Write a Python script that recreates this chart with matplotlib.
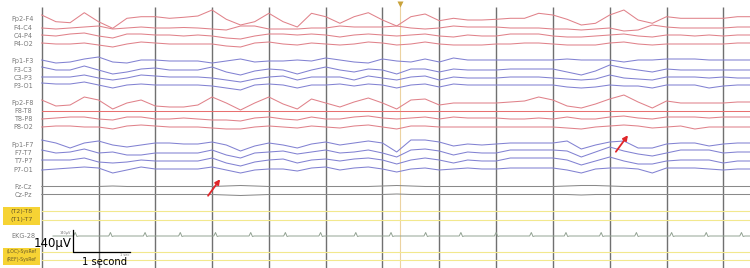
import matplotlib.pyplot as plt
import numpy as np
from matplotlib.patches import Rectangle

# EEG traces, one value every 0.25 s starting at the first gridline.
# Deflection in screen pixels (22 px = 140 uV), positive = upward.
STEP = 0.25

fp2_f4 = [4, -2.7, -3.7, 6.3, -2.7, -9.3, 0.7, 2.3, 2.3, 0.7, 1.7, 3, 9, -0.3, -6, -2.7, 5.7,
          -2.7, -8, 5.7, 2.3, -4.3, 2.3, 6.3, -1, -7, 2.3, 5, -1.7, 0.7, -1, -1, -0.3,
          0.7, 0.7, 5.7, 4, -0.3, -6, -4.3, 4, 9, -1, -4.3, 2.3, 0.7, 0.7, 0.7, 0.7, 2.3, 2.3]
f4_c4 = [0, -1, 0, 1, 2, -1, 0, 1, 0, 0, 0.5, 0, -1, -2, 2, 2, -1,
         -1, -1, 0, 0, 2, 1, 1, 1, 2, 0, -1, 0, 2, 1, 1, 1,
         0, 0, 0, -1, -1, -2, -1, 0, -3, -2, 3, 1, 0, 0, 0, 0, 1, 1]
c4_p4 = [1, 0, 2, 3, 0, -2, 2, 2, 1, 1, 0, 1, 0, -2, -3, 0, 2,
         2, 1, 2, 1, -1, 1, 2, 1, 0, 1, 2, 0, -1, 1, 0, 0,
         2, 2, 2, 0, -1, -1, 0, 1, 2, 0, -1, 1, 1, 0, 1, 0, 1, 1]
p4_o2 = [1, 0, 0, 1, -1, -3, 0, 2, 1, 0, 0, 0, 0, -2, -3, 1, 2,
         0, -1, 1, 0, -1, 0, 2, 1, -1, 0, 2, 0, -1, -1, -1, 0,
         0, 1, 1, 0, -1, -1, -1, 1, 2, 0, -1, 0, 0, 0, 0, 0, 1, 1]

fp1_f3 = [1, -2, -1, 2, 4, -1, -2, 1, 1, 0, 0, 0, -2, 0, 2, -1, 0,
          0, 1, 0, 3, 1, -1, -2, 2, 0, -1, 2, -1, 3, 1, 1, 1,
          1, 1, 1, 1, 2, 1, 1, 1, -1, 1, 1, 2, 2, 2, 1, 1, 1, 1]
f3_c3 = [3, 0, 0, 4, 0, -4, -2, 1, 2, 0, 0, 0, 3, -2, -5, -1, 1,
         0, -4, 0, 3, 0, -2, 1, 0, -4, 1, 1, -2, 1, 0, 0, 0,
         1, 1, 1, 1, -2, -5, -1, 5, 2, 0, -2, 1, 0, 0, 0, 0, 0, 0]
c3_p3 = [1, 1, 1, 3, 0, -2, 0, 3, 2, 1, 1, 1, 0, -2, -4, -1, 1,
         2, -2, 1, 1, 1, -2, 2, 0, -2, 1, 2, -2, 1, 0, 0, 0,
         1, 1, 1, 0, -1, -2, -1, 3, 0, -1, -2, 1, 1, 1, 0, 1, 0, 0]
p3_o1 = [3, 2, 2, 4, 1, -2, 1, 2, 1, 1, 1, 1, 0, -2, -4, 1, 2,
         1, -2, 1, 1, 2, 0, 2, 1, -2, 1, 2, -1, 2, 1, 1, 1,
         1, 1, 1, 1, -1, -2, -1, 1, 0, 0, -2, 1, 1, 1, -2, 0, 1, 1]

fp2_f8 = [3, -3, -2, 6, 3, -6, 0, 3, -3, -4, -4, -2, 6, 0, -7, 0, 6,
          -1, -6, 4, 0, -4, 1, 5, 0, -6, 3, 4, -2, 0, 0, 0, 0,
          1, 2, 6, 3, -3, -5, -1, 4, 8, 1, -5, 2, 0, 0, 0, 0, 1, 1]
f8_t8 = [0.0] * 51  # flat derivation
t8_p8 = [0, 1, 2, 2, 0, -1, 2, 2, 0, 0, 1, 0, -1, -1, -2, 1, 2,
         0, -1, 2, 0, 0, 2, 3, 1, 0, 1, 2, 0, 2, 1, 1, 1,
         0, 0, 1, 0, 2, 0, 0, 2, 3, 1, 0, 2, 2, 2, 1, 2, 2, 2]
p8_o2 = [0, 1, 1, 0, 0, -2, 1, 2, 1, 0, 0, 0, -1, -2, -2, 0, 1,
         0, -1, 1, 0, -1, 1, 2, 0, -2, 1, 1, 0, 0, 0, 0, 0,
         0, 0, 0, 0, -1, -2, 0, 1, 2, 1, -1, 0, 1, -2, 0, 0, 0, 0]

fp1_f7 = [5, 2, -3, 2, 4, 0, -2, 0, 2, 2, 1, 1, 3, 0, -6, -1, 2,
          0, -3, 1, 3, 0, 2, 4, 2, -7, 5, 5, 3, -1, 1, 0, 1,
          2, 2, 2, 2, 4, -4, 0, 3, 4, -3, -3, 1, 2, 2, -1, 1, 2, 2]
f7_t7 = [3, 0, 1, 4, 0, 1, -2, -2, 0, 0, 0, 0, 3, -2, -5, 0, 1,
         2, -1, 1, 3, 0, 1, 3, 0, -4, 3, 4, 2, -2, 1, 0, 0,
         3, 3, 3, 3, 2, -4, 1, 6, 2, -1, -3, 0, 3, 3, 3, 0, 1, 1]
t7_p7 = [1, 1, 1, 3, -1, -2, -1, 1, 0, 0, 0, 0, 3, -2, -5, -1, 1,
         2, -2, 1, 2, 0, 2, 3, 1, -3, 1, 3, 1, -2, 1, 0, 0,
         3, 3, 3, 3, 1, -4, 0, 4, 0, -3, -3, 0, 1, 1, 1, -2, 0, 0]
p7_o1 = [0, 1, 2, 3, 2, -3, 0, 3, 1, 1, 1, 1, 3, 0, -3, 0, 1,
         1, -1, 2, 3, 0, 2, 3, 1, -2, 1, 2, 0, 1, 2, 1, 1,
         2, 2, 2, 2, 0, -3, 1, 2, 2, 1, -3, 2, 2, 2, 1, 0, 1, 1]

fz_cz = [0.5, 0.5, 0.5, 0.5, 0.5, 1, 0.5, 0.5, 0.5, 0.5, 0.5, 0.5, 0.5, 1, 1.5, 1, 0.5,
         0.5, 0.5, 0.5, 0.5, 0.5, 0.5, 0.5, 1, 1.5, 1, 0.5, 0.5, 0.5, 0.5, 0.5, 0.5,
         0.5, 0.5, 0.5, 0.5, 1, 1.5, 1.5, 1, 0.5, 0.5, 0.5, 0.5, 0.5, 0.5, 0.5, 0.5, 0.5, 0.5]
cz_pz = [0.5, 0.5, 0.5, 0.5, 0.5, 0.5, 0.5, 0.5, 0.5, 0.5, 0.5, 0.5, 0.5, 0, -0.5, 0, 0.5,
         0.5, 0.5, 0.5, 0.5, 0.5, 0.5, 0.5, 0.5, 1, 0.5, 0.5, 0.5, 0.5, 0.5, 0.5, 0.5,
         0.5, 0.5, 0.5, 0.5, 0.5, 0, 0.5, 0.5, 0.5, 0.5, 0.5, 0.5, 0.5, 0.5, 0.5, 0.5, 0.5, 0.5]

# QRS spikes on the EKG channel (seconds) and their height
ekg_beats = [0.59, 1.21, 1.82, 2.44, 3.06, 3.68, 4.29, 4.91, 5.53, 6.15, 6.76,
             7.38, 8.00, 8.62, 9.23, 9.85, 10.47, 11.09, 11.70, 12.32]
ekg_height = 3.5

event_marker = 6.3  # seconds
arrows = [((2.90, 198), (3.17, 177)), ((10.08, 154), (10.35, 133))]

RED = "#e0828a"
BLUE = "#8282d2"
GRAY = "#8a8a8a"

# (label, data, row y in px, colour)
channels = [
    ("Fp2-F4", fp2_f4, 19, RED), ("F4-C4", f4_c4, 28, RED),
    ("C4-P4", c4_p4, 36, RED), ("P4-O2", p4_o2, 44, RED),
    ("Fp1-F3", fp1_f3, 61, BLUE), ("F3-C3", f3_c3, 70, BLUE),
    ("C3-P3", c3_p3, 78, BLUE), ("P3-O1", p3_o1, 86, BLUE),
    ("Fp2-F8", fp2_f8, 103, RED), ("F8-T8", f8_t8, 111, "#e87070"),
    ("T8-P8", t8_p8, 119, RED), ("P8-O2", p8_o2, 127, RED),
    ("Fp1-F7", fp1_f7, 145, BLUE), ("F7-T7", f7_t7, 153, BLUE),
    ("T7-P7", t7_p7, 161, BLUE), ("P7-O1", p7_o1, 170, BLUE),
    ("Fz-Cz", fz_cz, 187, GRAY), ("Cz-Pz", cz_pz, 195, GRAY),
]
yellow_rows = [("(T2)-T8", 211), ("(T1)-T7", 220), ("(LOC)-SysRef", 252), ("(REF)-SysRef", 260)]
EKG_ROW = 236

X0, PX_PER_S = 41.7, 56.8
W, H = 750, 268


def to_t(px):
    return (px - X0) / PX_PER_S


fig = plt.figure(figsize=(W / 100, H / 100), dpi=100)
ax = fig.add_axes([0, 0, 1, 1])
ax.set_xlim(to_t(0), to_t(W))
ax.set_ylim(H, 0)
ax.axis("off")

t = np.arange(51) * STEP
label_t = to_t(23)

for name, vals, row, color in channels:
    ax.plot(t, row - np.asarray(vals), color=color, lw=0.75, solid_joinstyle="round")
    ax.text(label_t, row, name, ha="center", va="center", fontsize=4.7, color="#7a7a7a")

for name, row in yellow_rows:
    ax.plot([0, t[-1]], [row, row], color="#f2e88e", lw=0.8)
    ax.add_patch(Rectangle((to_t(3), row - 4.5), to_t(40) - to_t(3), 9, color="#f6d334", lw=0))
    ax.text(to_t(21.5), row, name, ha="center", va="center",
            fontsize=4.6 if len(name) < 9 else 3.3, color="#6a5a28")

# EKG channel: flat with narrow QRS spikes
ekg_t, ekg_y = [to_t(53)], [0.0]
for b in ekg_beats:
    ekg_t += [b - 0.03, b, b + 0.03, b + 0.06]
    ekg_y += [0.0, ekg_height, -0.5, 0.0]
ekg_t.append(t[-1])
ekg_y.append(0.0)
ax.plot(ekg_t, EKG_ROW - np.asarray(ekg_y), color="#93a393", lw=0.7)
ax.text(label_t, EKG_ROW, "EKG-28", ha="center", va="center", fontsize=4.7, color="#7a7a7a")

# one-second gridlines
ax.vlines(np.arange(13), 7, H, color="#707070", lw=1.0, zorder=1)

# event marker
ax.vlines(event_marker, 5, H, color="#ecd2a0", lw=0.8, zorder=1)
ax.plot(event_marker, 3.5, marker="v", ms=4.5, color="#c9a23a", mec="none")

# red arrows
for tail, head in arrows:
    ax.annotate("", xy=head, xytext=tail,
                arrowprops=dict(arrowstyle="-|>", color="#e0262a", lw=1.3, mutation_scale=7))

# calibration bar
bar_t = to_t(73)
ax.plot([bar_t, bar_t, bar_t + 1], [230, 252, 252], color="black", lw=0.9)
ax.text(to_t(72), 243, "140\u00b5V", ha="right", va="center", fontsize=8.5, color="black")
ax.text(bar_t + 0.55, 262, "1 second", ha="center", va="center", fontsize=7.2, color="black")
ax.text(to_t(65), 233, "140\u00b5V", ha="center", va="center", fontsize=2.5, color="#777777")
ax.text(to_t(125), 255, "1 sec", ha="center", va="center", fontsize=2.5, color="#777777")

fig.savefig("out.png", dpi=100)
